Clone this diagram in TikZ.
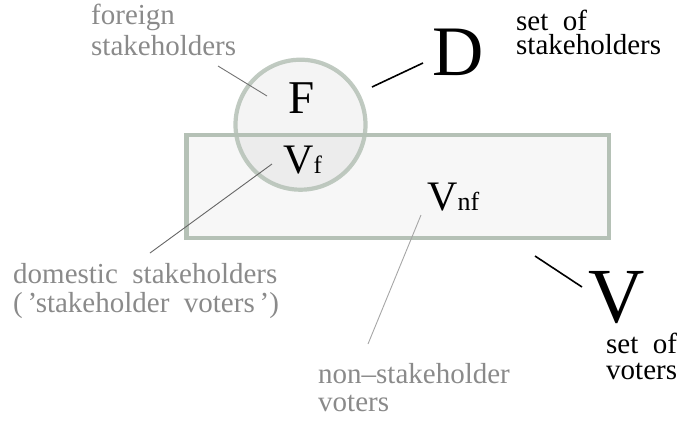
\documentclass[tikz,border=0pt]{standalone}
\usepackage{fontspec}
\setmainfont{Liberation Serif}[WordSpace=2]
\begin{document}
\begin{tikzpicture}[x=1pt,y=-1pt,
  setline/.style={draw=setgreen,line width=4.2pt},
  note/.style={inner sep=0pt,anchor=base west,align=left,font=\fontsize{29}{30}\selectfont},
  graynote/.style={note,text=notegray},
  big/.style={inner sep=0pt,anchor=base west},
  pointer/.style={line width=0.9pt},
  blackpointer/.style={line width=1.6pt,black}]
\definecolor{setgreen}{HTML}{B5C1B6}
\definecolor{notegray}{HTML}{8A8A8A}
\useasboundingbox (0,0) rectangle (680,421);

% the two sets: voters (rectangle) and stakeholders (circle)
\fill[fill=black!3] (186.5,135) rectangle (609,238);
\fill[black,opacity=0.045] (300.5,124.7) circle[radius=65];
\draw[setline] (186.5,135) rectangle (609,238);
\draw[setline,opacity=0.85] (300.5,124.7) circle[radius=65];

% set labels
\node[big,font=\fontsize{47}{47}\selectfont] (F) at (288,113) {F};
\node[big] (Vf) at (283,173) {\fontsize{42}{42}\selectfont V\fontsize{25}{25}\selectfont f};
\node[big] (Vnf) at (427,210) {\fontsize{42}{42}\selectfont V\fontsize{26}{26}\selectfont nf};
\node[big,font=\fontsize{71}{71}\selectfont] (D) at (432,75) {D};
\node[big,font=\fontsize{78}{78}\selectfont] (V) at (588,322) {V};

% explanatory notes (anchored at the baseline of their last line)
\node[graynote] (foreign) at (91,55) {foreign\\[1pt]stakeholders};
\node[note] (setD) at (516,54) {set of\\[-6pt]stakeholders};
\node[graynote] (domestic) at (13,312) {domestic stakeholders\\[-1pt](\,’stakeholder voters\,’)};
\node[graynote] (nonstake) at (318,411) {non–stakeholder\\[-2pt]voters};
\node[note] (setV) at (606,379) {set of\\[-4pt]voters};

% pointers
\coordinate (pF) at (218,66);  \coordinate (pFend) at (267,96);
\coordinate (pVf) at (150,253); \coordinate (pVfend) at (272,164);
\coordinate (pVnf) at (368,344); \coordinate (pVnfend) at (421,215);
\coordinate (pD) at (372,87);  \coordinate (pDend) at (423,63);
\coordinate (pV) at (535,256); \coordinate (pVend) at (582,287);
\draw[pointer,draw=black!55] (pF) -- (pFend);
\draw[pointer,draw=black!60] (pVf) -- (pVfend);
\draw[pointer,draw=black!35] (pVnf) -- (pVnfend);
\draw[blackpointer] (pD) -- (pDend);
\draw[blackpointer] (pV) -- (pVend);
\end{tikzpicture}
\end{document}
